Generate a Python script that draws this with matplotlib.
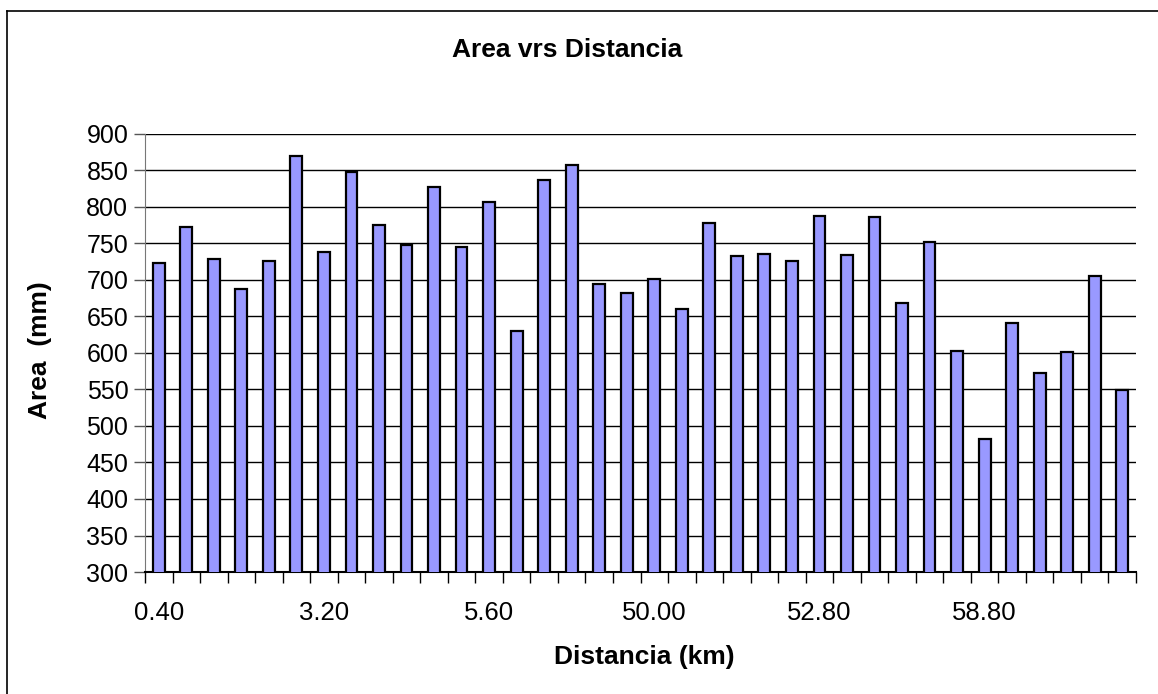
import matplotlib.pyplot as plt
from matplotlib.lines import Line2D
import numpy as np

plt.rcParams['font.family'] = ['Liberation Sans', 'DejaVu Sans']

# Distancia (km) per station, only every 6th one is labelled on the axis
distancias = ['0.40', '0.80', '1.20', '1.60', '2.00', '2.80',
              '3.20', '3.60', '4.00', '4.40', '4.80', '5.20',
              '5.60', '6.00', '6.40', '6.80', '7.20', '7.60',
              '50.00', '50.40', '50.80', '51.20', '51.60', '52.40',
              '52.80', '53.20', '54.00', '55.20', '56.40', '57.60',
              '58.80', '59.60', '60.40', '61.20', '62.00', '62.80']
areas = [723, 773, 729, 688, 726, 870, 739, 848, 775, 748, 827, 745,
         807, 630, 837, 857, 695, 682, 702, 660, 778, 733, 735, 726,
         788, 734, 786, 669, 752, 603, 482, 641, 573, 601, 706, 549]
y_ticks = list(range(300, 901, 50))
label_step = 6

W, H = 1158, 694
fig = plt.figure(figsize=(W / 100, H / 100), dpi=100)
ax = fig.add_axes([145 / W, 1 - 572 / H, (1136 - 145) / W, (572 - 134) / H])

x = np.arange(len(areas))
ax.bar(x, areas, width=0.43, color='#9999FF', edgecolor='black',
       linewidth=1.6, zorder=3, bottom=0)

ax.set_xlim(-0.5, len(areas) - 0.5)
ax.set_ylim(300, 900)
ax.set_yticks(y_ticks)
ax.yaxis.grid(True, color='black', linewidth=1.0, zorder=0)

# labelled categories, tick marks between categories
ax.set_xticks(x[::label_step])
ax.set_xticklabels(distancias[::label_step])
ax.set_xticks(np.arange(-0.5, len(areas)), minor=True)
ax.tick_params(axis='x', which='major', length=0, pad=21, labelsize=18.5)
ax.tick_params(axis='x', which='minor', length=8, width=1, color='black')
ax.tick_params(axis='y', length=8, width=1, color='#555555', labelsize=18, pad=4)

for s in ['top', 'right']:
    ax.spines[s].set_visible(False)
ax.spines['left'].set_color('#777777')
ax.spines['bottom'].set_color('black')
ax.spines['bottom'].set_linewidth(1.5)

fig.text(567 / W, 1 - 50 / H, 'Area vrs Distancia', ha='center', va='center',
         fontsize=19, fontweight='bold')
fig.text(644 / W, 1 - 657 / H, 'Distancia (km)', ha='center', va='center',
         fontsize=19, fontweight='bold')
fig.text(40 / W, 1 - 350 / H, 'Area  (mm)', ha='center', va='center',
         fontsize=19, fontweight='bold', rotation=90)

# chart area border
fig.add_artist(Line2D([7 / W, 1], [1 - 11 / H, 1 - 11 / H], color='black', linewidth=1.2))
fig.add_artist(Line2D([7 / W, 7 / W], [0, 1 - 11 / H], color='black', linewidth=1.2))

fig.savefig('out.png', dpi=100)
